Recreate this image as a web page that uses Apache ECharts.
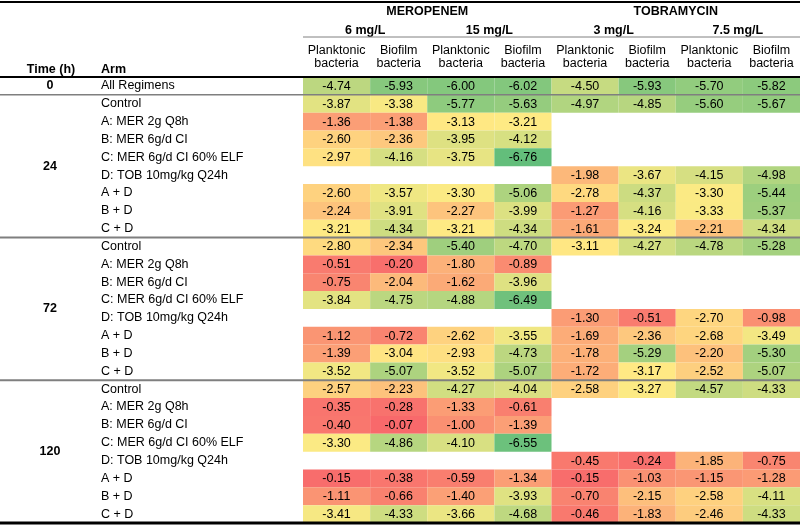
<!DOCTYPE html>
<html>
<head>
<meta charset="utf-8">
<script src="https://cdn.jsdelivr.net/npm/echarts@6/dist/echarts.min.js"></script>
<style>html,body{margin:0;padding:0;background:#fff;}#c{width:800px;height:525px;}</style>
</head>
<body>
<div id="c"></div>
<script>
// ---------- data ----------
const drugs = ['MEROPENEM', 'TOBRAMYCIN'];
const concentrations = ['6 mg/L', '15 mg/L', '3 mg/L', '7.5 mg/L'];
const fractions = ['Planktonic\nbacteria', 'Biofilm\nbacteria'];
const times = ['0', '24', '72', '120'];
const arm0 = ['All Regimens'];
const arms = ['Control', 'A: MER 2g Q8h', 'B: MER 6g/d CI', 'C: MER 6g/d CI 60% ELF',
  'D: TOB 10mg/kg Q24h', 'A + D', 'B + D', 'C + D'];

const values0 = [
  [-4.74, -5.93, -6.00, -6.02, -4.50, -5.93, -5.70, -5.82]
];
const values24 = [
  [-3.87, -3.38, -5.77, -5.63, -4.97, -4.85, -5.60, -5.67],
  [-1.36, -1.38, -3.13, -3.21, null, null, null, null],
  [-2.60, -2.36, -3.95, -4.12, null, null, null, null],
  [-2.97, -4.16, -3.75, -6.76, null, null, null, null],
  [null, null, null, null, -1.98, -3.67, -4.15, -4.98],
  [-2.60, -3.57, -3.30, -5.06, -2.78, -4.37, -3.30, -5.44],
  [-2.24, -3.91, -2.27, -3.99, -1.27, -4.16, -3.33, -5.37],
  [-3.21, -4.34, -3.21, -4.34, -1.61, -3.24, -2.21, -4.34]
];
const values72 = [
  [-2.80, -2.34, -5.40, -4.70, -3.11, -4.27, -4.78, -5.28],
  [-0.51, -0.20, -1.80, -0.89, null, null, null, null],
  [-0.75, -2.04, -1.62, -3.96, null, null, null, null],
  [-3.84, -4.75, -4.88, -6.49, null, null, null, null],
  [null, null, null, null, -1.30, -0.51, -2.70, -0.98],
  [-1.12, -0.72, -2.62, -3.55, -1.69, -2.36, -2.68, -3.49],
  [-1.39, -3.04, -2.93, -4.73, -1.78, -5.29, -2.20, -5.30],
  [-3.52, -5.07, -3.52, -5.07, -1.72, -3.17, -2.52, -5.07]
];
const values120 = [
  [-2.57, -2.23, -4.27, -4.04, -2.58, -3.27, -4.57, -4.33],
  [-0.35, -0.28, -1.33, -0.61, null, null, null, null],
  [-0.40, -0.07, -1.00, -1.39, null, null, null, null],
  [-3.30, -4.86, -4.10, -6.55, null, null, null, null],
  [null, null, null, null, -0.45, -0.24, -1.85, -0.75],
  [-0.15, -0.38, -0.59, -1.34, -0.15, -1.03, -1.15, -1.28],
  [-1.11, -0.66, -1.40, -3.93, -0.70, -2.15, -2.58, -4.11],
  [-3.41, -4.33, -3.66, -4.68, -0.46, -1.83, -2.46, -4.33]
];

// ---------- layout / style ----------
const FONT = '"Liberation Sans", Arial, Helvetica, sans-serif';
const FS = 12.5;
const colW = [67, 57, 67, 57, 67, 57, 67, 57];
const colStart = [0];
colW.forEach(w => colStart.push(colStart[colStart.length - 1] + w));
const totalW = colStart[colStart.length - 1];
const GREEN = [0x63, 0xBE, 0x7B], YELLOW = [0xFF, 0xEB, 0x84], RED = [0xF8, 0x69, 0x6B];

// ---------- build rows & cells ----------
const groups = [
  { label: times[0], arms: arm0, vals: values0 },
  { label: times[1], arms: arms, vals: values24 },
  { label: times[2], arms: arms, vals: values72 },
  { label: times[3], arms: arms, vals: values120 }
];
const rowNames = [];
const groupRanges = [];
const cells = [];
groups.forEach(g => {
  const start = rowNames.length;
  g.arms.forEach((a, i) => {
    const r = rowNames.length;
    rowNames.push(a);
    g.vals[i].forEach((v, c) => { if (v !== null) cells.push([c, r, v]); });
  });
  groupRanges.push({ label: g.label, start: start, end: rowNames.length - 1 });
});

// colour scale: 3-colour (min green, median yellow, max red)
const allV = cells.map(d => d[2]).sort((a, b) => a - b);
const vMin = allV[0], vMax = allV[allV.length - 1];
const n = allV.length;
const vMid = n % 2 ? allV[(n - 1) / 2] : (allV[n / 2 - 1] + allV[n / 2]) / 2;
function mix(a, b, t) { return 'rgb(' + a.map((x, i) => Math.round(x + (b[i] - x) * t)).join(',') + ')'; }
const STOPS = 60;
const stops = [];
for (let i = 0; i <= STOPS; i++) {
  const v = vMin + (vMax - vMin) * i / STOPS;
  stops.push(v <= vMid ? mix(GREEN, YELLOW, (v - vMin) / (vMid - vMin)) : mix(YELLOW, RED, (v - vMid) / (vMax - vMid)));
}

const chart = echarts.init(document.getElementById('c'), null, { renderer: 'canvas' });
chart.setOption({
  animation: false,
  grid: { left: 303, right: 0, top: 77, bottom: 2 },
  xAxis: { type: 'value', min: 0, max: totalW, show: false },
  yAxis: {
    type: 'category', inverse: true,
    data: rowNames.map((_, i) => String(i)),
    axisLine: { show: false }, axisTick: { show: false }, splitLine: { show: false },
    axisLabel: {
      interval: 0, margin: 202, align: 'left', color: '#000',
      fontSize: FS, fontFamily: FONT,
      formatter: v => rowNames[+v]
    }
  },
  visualMap: {
    show: false, type: 'continuous', dimension: 2, seriesIndex: 0,
    min: vMin, max: vMax, inRange: { color: stops }
  },
  series: [{
    type: 'custom',
    encode: { x: 0, y: 1 },
    data: cells,
    renderItem: function (params, api) {
      const c = api.value(0), r = api.value(1), v = api.value(2);
      const p0 = api.coord([colStart[c], r]);
      const p1 = api.coord([colStart[c + 1], r]);
      const h = api.size([0, 1])[1];
      return {
        type: 'group',
        children: [
          { type: 'rect', shape: { x: p0[0], y: p0[1] - h / 2, width: p1[0] - p0[0], height: h },
            style: { fill: api.visual('color') } },
          { type: 'text', z2: 10,
            style: { text: v.toFixed(2), x: (p0[0] + p1[0]) / 2, y: p0[1] + 0.5, align: 'center',
              verticalAlign: 'middle', fill: '#000', font: FS + 'px ' + FONT } }
        ]
      };
    }
  }]
});

// ---------- headers, time labels and rules ----------
const xp = v => chart.convertToPixel({ xAxisIndex: 0 }, v);
const yc = i => chart.convertToPixel({ yAxisIndex: 0 }, String(i));
const rh = Math.abs(yc(1) - yc(0));
const rowTop = i => yc(0) - rh / 2 + i * rh;
const W = 800;
const g = [];
function txt(s, x, y, bold, align, lh) {
  g.push({ type: 'text', z: 20, style: { text: s, x: x, y: y, align: align || 'center', verticalAlign: 'middle',
    fill: '#000', font: (bold ? 'bold ' : '') + FS + 'px ' + FONT, lineHeight: lh || 14 } });
}
function line(x1, x2, y, w, color) {
  g.push({ type: 'line', z: 30, shape: { x1: x1, y1: y, x2: x2, y2: y }, style: { stroke: color, lineWidth: w } });
}
drugs.forEach((d, i) => txt(d, (xp(colStart[i * 4]) + xp(colStart[i * 4 + 4])) / 2, 12, true));
concentrations.forEach((c, i) => txt(c, (xp(colStart[i * 2]) + xp(colStart[i * 2 + 2])) / 2, 30.5, true));
colW.forEach((w, i) => txt(fractions[i % 2], (xp(colStart[i]) + xp(colStart[i + 1])) / 2, 57, false, 'center', 13.5));
txt('Time (h)', 51, 70, true);
txt('Arm', 101, 70, true, 'left');
groupRanges.forEach(gr => txt(gr.label, 50, (rowTop(gr.start) + rowTop(gr.end + 1)) / 2, true));

line(0, W, 2, 2, '#000');
line(xp(0), W, 37, 1, '#808080');
line(0, W, rowTop(0), 2, '#000');
line(0, W, rowTop(1), 1.5, '#7f7f7f');
line(0, W, rowTop(groupRanges[2].start), 2, '#7f7f7f');
line(0, W, rowTop(groupRanges[3].start), 2, '#7f7f7f');
line(0, W, rowTop(rowNames.length), 3, '#000');
chart.setOption({ graphic: g });
</script>
</body>
</html>
